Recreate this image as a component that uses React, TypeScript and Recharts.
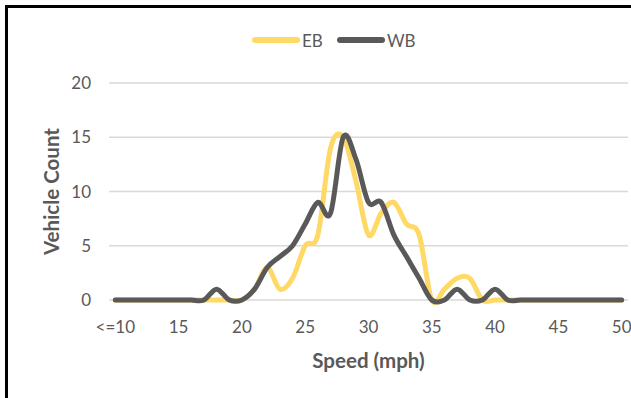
import React from "react";
import { LineChart, Line, XAxis, YAxis, CartesianGrid, Legend, Label } from "recharts";

const speeds = [
  "<=10", "11", "12", "13", "14", "15", "16", "17", "18", "19", "20",
  "21", "22", "23", "24", "25", "26", "27", "28", "29", "30",
  "31", "32", "33", "34", "35", "36", "37", "38", "39", "40",
  "41", "42", "43", "44", "45", "46", "47", "48", "49", "50",
];
const ebCounts = [
  0, 0, 0, 0, 0, 0, 0, 0, 0, 0, 0,
  1, 3, 1, 2, 5, 6, 14, 15, 11, 6,
  8, 9, 7, 6, 0, 1, 2, 2, 0, 0,
  0, 0, 0, 0, 0, 0, 0, 0, 0, 0,
];
const wbCounts = [
  0, 0, 0, 0, 0, 0, 0, 0, 1, 0, 0,
  1, 3, 4, 5, 7, 9, 8, 15, 13, 9,
  9, 6, 4, 2, 0, 0, 1, 0, 0, 1,
  0, 0, 0, 0, 0, 0, 0, 0, 0, 0,
];
const yTicks = [0, 5, 10, 15, 20];
const seriesNames = ["EB", "WB"];

const EB_COLOR = "#FFD966";
const WB_COLOR = "#595959";
const TEXT = "#595959";
const FONT = "Lato, 'Open Sans', sans-serif";

const data = speeds.map((s, i) => ({ speed: s, EB: ebCounts[i], WB: wbCounts[i] }));

// Excel-like smoothed line (uniform Catmull-Rom as cubic Bezier)
function excelSmooth(context: any) {
  let pts: number[][] = [];
  return {
    areaStart() {},
    areaEnd() {},
    lineStart() {
      pts = [];
    },
    point(x: number, y: number) {
      pts.push([+x, +y]);
    },
    lineEnd() {
      const n = pts.length;
      if (!n) return;
      context.moveTo(pts[0][0], pts[0][1]);
      for (let i = 0; i < n - 1; i++) {
        const p0 = pts[i - 1] || pts[i];
        const p1 = pts[i];
        const p2 = pts[i + 1];
        const p3 = pts[i + 2] || pts[i + 1];
        context.bezierCurveTo(
          p1[0] + (p2[0] - p0[0]) / 6,
          p1[1] + (p2[1] - p0[1]) / 6,
          p2[0] - (p3[0] - p1[0]) / 6,
          p2[1] - (p3[1] - p1[1]) / 6,
          p2[0],
          p2[1]
        );
      }
    },
  };
}

const LegendContent = () => (
  <svg width={631} height={53} style={{ display: "block" }}>
    <line x1={255} y1={10} x2={297} y2={10} stroke={EB_COLOR} strokeWidth={6} strokeLinecap="round" />
    <text x={302} y={10} dominantBaseline="central" fontSize={17} fill={TEXT} fontFamily={FONT}>
      {seriesNames[0]}
    </text>
    <line x1={340} y1={10} x2={382} y2={10} stroke={WB_COLOR} strokeWidth={6} strokeLinecap="round" />
    <text x={387} y={10} dominantBaseline="central" fontSize={17} fill={TEXT} fontFamily={FONT}>
      {seriesNames[1]}
    </text>
  </svg>
);

export default function App() {
  return (
    <div>
      <div
        style={{
          position: "absolute",
          left: 5,
          top: 5,
          width: 626,
          height: 393,
          boxSizing: "border-box",
          borderLeft: "3px solid #000",
          borderTop: "3px solid #000",
          background: "#fff",
        }}
      />
      <div style={{ position: "absolute", left: 0, top: 0, width: 631, height: 398, fontFamily: FONT }}>
        <LineChart
          width={631}
          height={398}
          data={data}
          margin={{ top: 30, right: 3, bottom: 38, left: 39 }}
        >
          <Legend
            verticalAlign="top"
            content={<LegendContent />}
            wrapperStyle={{ top: 30, left: 0, width: 631, height: 53 }}
          />
          <CartesianGrid vertical={false} stroke="#D9D9D9" strokeWidth={1.5} />
          <XAxis
            dataKey="speed"
            interval={4}
            axisLine={false}
            tickLine={false}
            tickSize={0}
            tickMargin={21}
            padding={{ left: 6.3, right: 6.3 }}
            height={60}
            tick={{ fill: TEXT, fontSize: 17, fontFamily: FONT }}
          >
            <Label
              content={(props: any) => {
                const vb = props.viewBox;
                return (
                  <text
                    x={vb.x + vb.width / 2}
                    y={vb.y + 60}
                    textAnchor="middle"
                    dominantBaseline="central"
                    fontSize={20.5}
                    fontWeight={700}
                    fill={TEXT}
                    fontFamily={FONT}
                  >
                    Speed (mph)
                  </text>
                );
              }}
            />
          </XAxis>
          <YAxis
            domain={[0, 20]}
            ticks={yTicks}
            axisLine={false}
            tickLine={false}
            tickSize={0}
            tickMargin={18}
            width={70}
            tick={{ fill: TEXT, fontSize: 17, fontFamily: FONT }}
          >
            <Label
              content={(props: any) => {
                const vb = props.viewBox;
                const cx = vb.x + 12;
                const cy = vb.y + vb.height / 2;
                return (
                  <text
                    x={cx}
                    y={cy}
                    transform={`rotate(-90, ${cx}, ${cy})`}
                    textAnchor="middle"
                    dominantBaseline="central"
                    fontSize={20.5}
                    fontWeight={700}
                    fill={TEXT}
                    fontFamily={FONT}
                  >
                    Vehicle Count
                  </text>
                );
              }}
            />
          </YAxis>
          <Line
            dataKey="EB"
            name={seriesNames[0]}
            type={excelSmooth as any}
            stroke={EB_COLOR}
            strokeWidth={5}
            strokeLinecap="round"
            strokeLinejoin="round"
            dot={false}
            activeDot={false}
            isAnimationActive={false}
          />
          <Line
            dataKey="WB"
            name={seriesNames[1]}
            type={excelSmooth as any}
            stroke={WB_COLOR}
            strokeWidth={5}
            strokeLinecap="round"
            strokeLinejoin="round"
            dot={false}
            activeDot={false}
            isAnimationActive={false}
          />
        </LineChart>
      </div>
    </div>
  );
}
